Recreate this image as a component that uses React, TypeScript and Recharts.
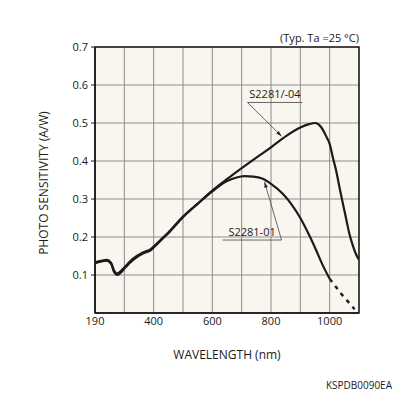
import { LineChart, Line, XAxis, YAxis, CartesianGrid, ReferenceLine, ReferenceArea } from 'recharts'

// wavelength axis is drawn on a 100 nm grid starting at the left edge (labelled 190)
const xTicks = [200, 300, 400, 500, 600, 700, 800, 900, 1000, 1100]
const xLabels: Record<number, string> = { 200: '190', 400: '400', 600: '600', 800: '800', 1000: '1000' }
const yTicks = [0.1, 0.2, 0.3, 0.4, 0.5, 0.6, 0.7]

const wl04 = [200, 220, 240, 255, 265, 275, 285, 300, 330, 365, 390, 410, 430, 450, 500, 550, 600, 650, 700, 750, 800, 850, 900, 930, 950, 970, 990, 1000, 1010, 1022, 1035, 1045, 1057, 1067, 1078, 1088, 1100]
const s04 = [0.133, 0.137, 0.14, 0.132, 0.112, 0.104, 0.108, 0.12, 0.143, 0.16, 0.168, 0.182, 0.197, 0.212, 0.254, 0.288, 0.322, 0.352, 0.381, 0.409, 0.436, 0.465, 0.488, 0.497, 0.5, 0.49, 0.462, 0.445, 0.412, 0.375, 0.325, 0.288, 0.245, 0.209, 0.18, 0.158, 0.14]

const wl01 = [200, 220, 240, 255, 265, 275, 285, 300, 330, 365, 390, 410, 430, 450, 500, 550, 600, 650, 680, 710, 740, 770, 800, 840, 870, 900, 930, 954, 975, 1000]
const s01 = [0.131, 0.135, 0.138, 0.129, 0.108, 0.1, 0.104, 0.117, 0.14, 0.157, 0.165, 0.18, 0.195, 0.21, 0.252, 0.287, 0.32, 0.347, 0.356, 0.36, 0.359, 0.354, 0.34, 0.314, 0.286, 0.25, 0.205, 0.165, 0.128, 0.09]

const wl01dash = [1000, 1040, 1085]
const s01dash = [0.09, 0.05, 0.01]

const data04 = wl04.map((x, i) => ({ x, y: s04[i] }))
const data01 = wl01.map((x, i) => ({ x, y: s01[i] }))
const data01dash = wl01dash.map((x, i) => ({ x, y: s01dash[i] }))

const font = '"Open Sans", "Liberation Sans", sans-serif'
const ink = '#1c1a1a'

function Arrow(props: any) {
  const { x1, y1, x2, y2 } = props
  const a = Math.atan2(y2 - y1, x2 - x1)
  const len = 6
  const w = 0.3
  return (
    <g>
      <line x1={x1} y1={y1} x2={x2} y2={y2} stroke="#444" strokeWidth={0.8} />
      <polygon
        points={`${x2},${y2} ${x2 - len * Math.cos(a - w)},${y2 - len * Math.sin(a - w)} ${x2 - len * Math.cos(a + w)},${y2 - len * Math.sin(a + w)}`}
        fill="#222"
      />
    </g>
  )
}

function Tag(text: string) {
  return (props: any) => {
    const { x1, y1, x2 } = props
    return (
      <g>
        <line x1={x1} y1={y1} x2={x2} y2={y1} stroke="#444" strokeWidth={0.8} />
        <text x={(x1 + x2) / 2} y={y1 - 4} textAnchor="middle" fontSize={11} fontFamily={font} fill={ink}>
          {text}
        </text>
      </g>
    )
  }
}

export default function App() {
  return (
    <div style={{ position: 'absolute', left: 0, top: 0, width: 396, height: 396, background: '#fff', fontFamily: font }}>
      <LineChart width={396} height={396} margin={{ top: 47, right: 37, bottom: 53, left: 35 }}>
        <CartesianGrid fill="#f8f6ef" stroke="#8c8c8c" strokeWidth={1} horizontalValues={yTicks} verticalValues={xTicks} />
        <XAxis
          type="number"
          dataKey="x"
          domain={[200, 1100]}
          ticks={xTicks}
          tickFormatter={(v) => xLabels[v] ?? ''}
          tickSize={0}
          tickMargin={4}
          height={30}
          axisLine={{ stroke: ink, strokeWidth: 1.5 }}
          tick={{ fontSize: 11, fill: ink, fontFamily: font }}
          allowDataOverflow
        />
        <YAxis
          type="number"
          domain={[0, 0.7]}
          ticks={yTicks}
          tickFormatter={(v) => v.toFixed(1)}
          width={60}
          tickSize={4}
          tickMargin={3}
          axisLine={{ stroke: ink, strokeWidth: 1.5 }}
          tickLine={{ stroke: ink }}
          tick={{ fontSize: 11, fill: ink, fontFamily: font }}
        />
        <ReferenceArea x1={200} x2={1100} y1={0} y2={0.7} fill="none" stroke={ink} strokeWidth={1.5} />
        <Line data={data04} dataKey="y" type="monotone" stroke={ink} strokeWidth={2.2} dot={false} isAnimationActive={false} />
        <Line data={data01} dataKey="y" type="monotone" stroke={ink} strokeWidth={2.2} dot={false} isAnimationActive={false} />
        <Line data={data01dash} dataKey="y" type="linear" stroke={ink} strokeWidth={2.4} strokeDasharray="4 5" dot={false} isAnimationActive={false} />
        <ReferenceLine segment={[{ x: 720, y: 0.554 }, { x: 907, y: 0.554 }]} shape={Tag('S2281/-04')} />
        <ReferenceLine segment={[{ x: 720, y: 0.554 }, { x: 836, y: 0.465 }]} shape={Arrow} />
        <ReferenceLine segment={[{ x: 635, y: 0.192 }, { x: 836, y: 0.192 }]} shape={Tag('S2281-01')} />
        <ReferenceLine segment={[{ x: 836, y: 0.192 }, { x: 778, y: 0.345 }]} shape={Arrow} />
      </LineChart>
      <div style={{ position: 'absolute', right: 37, top: 30, fontSize: 11, color: ink }}>(Typ. Ta =25 °C)</div>
      <div style={{ position: 'absolute', left: 95, width: 264, top: 346, textAlign: 'center', fontSize: 12, color: ink }}>
        WAVELENGTH (nm)
      </div>
      <div
        style={{
          position: 'absolute',
          left: 43,
          top: 183,
          transform: 'translate(-50%, -50%) rotate(-90deg)',
          whiteSpace: 'nowrap',
          fontSize: 12,
          color: ink,
        }}
      >
        PHOTO SENSITIVITY (A/W)
      </div>
      <div style={{ position: 'absolute', right: 4, top: 378, fontSize: 10, color: ink }}>KSPDB0090EA</div>
    </div>
  )
}
